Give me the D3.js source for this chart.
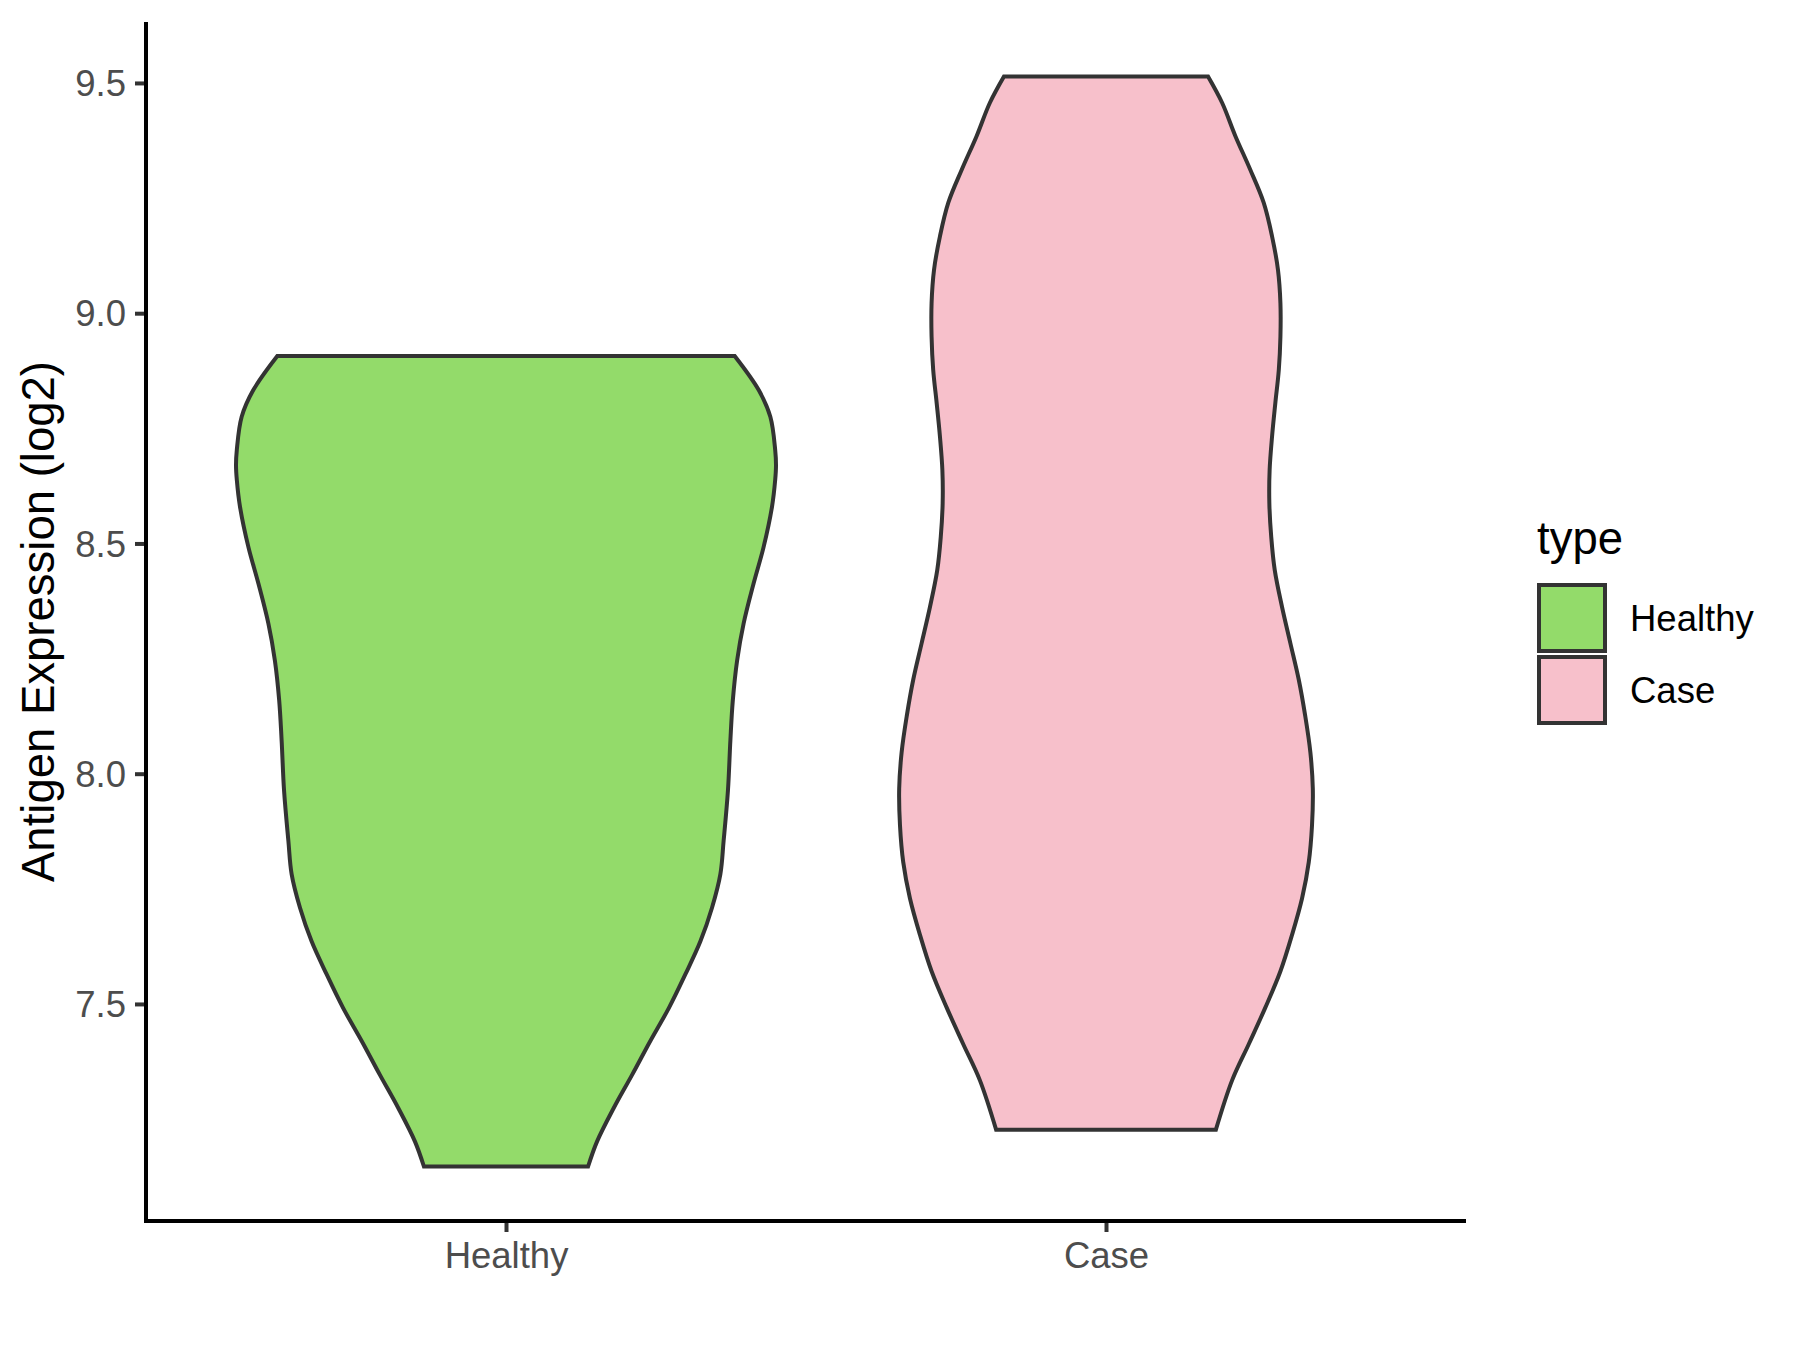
<!DOCTYPE html>
<html>
<head>
<meta charset="utf-8">
<script src="https://cdn.jsdelivr.net/npm/d3@7"></script>
<style>
  html, body { margin: 0; padding: 0; background: #ffffff; }
  svg { display: block; }
</style>
</head>
<body>
<svg id="chart" width="1800" height="1350"></svg>
<script>
// ---- data ----
const categories = ["Healthy", "Case"];
const fillColors = ["#93DB6A", "#F7C0CB"];
const yTicks = [7.5, 8.0, 8.5, 9.0, 9.5];
const yTickLabels = ["7.5", "8.0", "8.5", "9.0", "9.5"];

// violin outlines: expression value (log2) and relative density at that value
const healthyValues = [8.907, 8.833, 8.775, 8.703, 8.670, 8.638, 8.579, 8.492, 8.413, 8.326, 8.246, 8.159, 8.072, 7.963, 7.854, 7.782, 7.709, 7.636, 7.564, 7.491, 7.419, 7.346, 7.274, 7.201, 7.147];
const healthyDensity = [0.847, 0.936, 0.979, 0.997, 1.000, 0.997, 0.985, 0.954, 0.917, 0.880, 0.856, 0.840, 0.831, 0.822, 0.806, 0.794, 0.763, 0.720, 0.664, 0.603, 0.534, 0.467, 0.399, 0.337, 0.304];

const caseValues = [9.514, 9.457, 9.385, 9.312, 9.240, 9.167, 9.094, 9.022, 8.949, 8.877, 8.804, 8.732, 8.659, 8.587, 8.514, 8.442, 8.362, 8.283, 8.204, 8.125, 8.046, 7.967, 7.888, 7.808, 7.729, 7.650, 7.571, 7.492, 7.413, 7.334, 7.227];
const caseDensity = [0.378, 0.430, 0.479, 0.534, 0.584, 0.615, 0.637, 0.646, 0.646, 0.640, 0.627, 0.615, 0.606, 0.605, 0.612, 0.625, 0.652, 0.683, 0.714, 0.738, 0.757, 0.766, 0.763, 0.751, 0.726, 0.689, 0.646, 0.590, 0.529, 0.467, 0.407];

const yTitle = "Antigen Expression (log2)";
const legendTitle = "type";

// ---- layout ----
const svg = d3.select("#chart");
const panel = { left: 146, right: 1466, top: 22, bottom: 1221 };
const font = "'Liberation Sans', Arial, Helvetica, sans-serif";
const tickFont = 36.5, titleFont = 45.5;

const groups = [
  { name: categories[0], values: healthyValues, density: healthyDensity, fill: fillColors[0] },
  { name: categories[1], values: caseValues, density: caseDensity, fill: fillColors[1] }
];

const allVals = healthyValues.concat(caseValues);
const vmin = d3.min(allVals), vmax = d3.max(allVals);
const pad = (vmax - vmin) * 0.05;

const y = d3.scaleLinear().domain([vmin - pad, vmax + pad]).range([panel.bottom, panel.top]);
const x = d3.scalePoint().domain(categories).range([panel.left, panel.right]).padding(0.6);
const maxDen = d3.max(healthyDensity.concat(caseDensity));
const w = d3.scaleLinear().domain([0, maxDen]).range([0, 0.45 * x.step()]);

// violins
groups.forEach(g => {
  const cx = x(g.name);
  const pts = g.values.map((v, i) => ({ v, d: g.density[i] }));
  const area = d3.area()
    .y(p => y(p.v))
    .x0(p => cx - w(p.d))
    .x1(p => cx + w(p.d))
    .curve(d3.curveCatmullRom.alpha(0.5));
  svg.append("path")
    .attr("d", area(pts))
    .attr("fill", g.fill)
    .attr("stroke", "#333333")
    .attr("stroke-width", 4)
    .attr("stroke-linejoin", "miter");
});

// y axis
const yAxis = d3.axisLeft(y).tickValues(yTicks).tickFormat((d, i) => yTickLabels[i]).tickSizeOuter(0).tickSize(11).tickPadding(9);
const gy = svg.append("g").attr("transform", `translate(${panel.left},0)`).call(yAxis);
gy.select(".domain").remove();
gy.selectAll(".tick line").attr("stroke", "#333333").attr("stroke-width", 4);
gy.selectAll(".tick text").attr("fill", "#4D4D4D").attr("font-size", tickFont).attr("font-family", font).attr("dy", "0.35em");

// x axis
const xAxis = d3.axisBottom(x).tickSizeOuter(0).tickSize(11).tickPadding(10);
const gx = svg.append("g").attr("transform", `translate(0,${panel.bottom})`).call(xAxis);
gx.select(".domain").remove();
gx.selectAll(".tick line").attr("stroke", "#333333").attr("stroke-width", 4);
gx.selectAll(".tick text").attr("fill", "#4D4D4D").attr("font-size", tickFont).attr("font-family", font);

// axis lines
svg.append("line").attr("x1", panel.left).attr("x2", panel.left).attr("y1", panel.top).attr("y2", panel.bottom + 2)
  .attr("stroke", "#000").attr("stroke-width", 4);
svg.append("line").attr("x1", panel.left - 2).attr("x2", panel.right).attr("y1", panel.bottom).attr("y2", panel.bottom)
  .attr("stroke", "#000").attr("stroke-width", 4);

// y title
svg.append("text")
  .attr("transform", `translate(54,${(panel.top + panel.bottom) / 2}) rotate(-90)`)
  .attr("text-anchor", "middle")
  .attr("font-family", font).attr("font-size", titleFont).attr("fill", "#000")
  .text(yTitle);

// legend
const lg = svg.append("g").attr("transform", "translate(1538,0)");
lg.append("text").attr("x", -1).attr("y", 554).attr("font-family", font).attr("font-size", titleFont).attr("fill", "#000").text(legendTitle);
const keyTop = 585, keySize = 66, keyGap = 72;
groups.forEach((g, i) => {
  lg.append("rect").attr("x", 1).attr("y", keyTop + i * keyGap).attr("width", keySize).attr("height", keySize)
    .attr("fill", g.fill).attr("stroke", "#333333").attr("stroke-width", 4);
  lg.append("text").attr("x", 92).attr("y", keyTop + i * keyGap + keySize / 2).attr("dy", "0.35em")
    .attr("font-family", font).attr("font-size", tickFont).attr("fill", "#000").text(g.name);
});
</script>
</body>
</html>
